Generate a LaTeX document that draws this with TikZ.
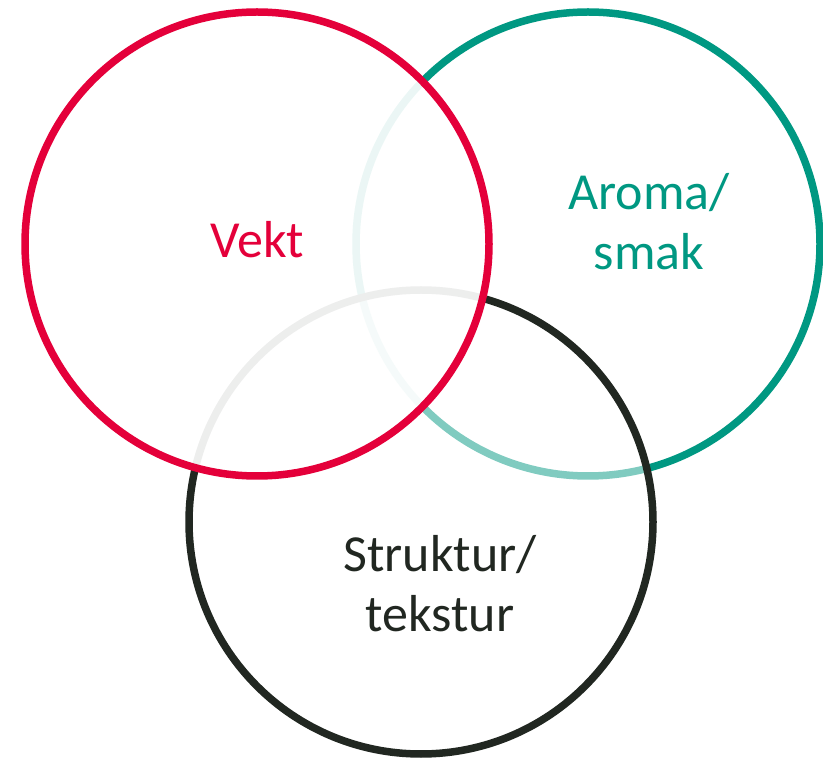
\documentclass[tikz,border=0pt]{standalone}
\usepackage{fontspec}
\setmainfont{Carlito}
\definecolor{vred}{RGB}{228,0,58}
\definecolor{vgreen}{RGB}{0,152,130}
\definecolor{vblack}{RGB}{33,39,33}
\begin{document}
\begin{tikzpicture}[x=1pt,y=-1pt,
  ring/.style={circle,draw,line width=7.5pt,minimum size=464pt,inner sep=0pt},
  lbl/.style={font=\fontsize{52}{60}\selectfont,align=center,inner sep=0pt}]
\useasboundingbox (0,0) rectangle (823,759);
\node[ring,draw=vgreen,fill=white,fill opacity=0] (aroma) at (588,244) {};
\node[ring,draw=vblack,fill=white,fill opacity=0.5,draw opacity=1] (struktur) at (421,522) {};
\node[ring,draw=vred,fill=white,fill opacity=0.92,draw opacity=1] (vekt) at (257,244) {};
\node[lbl,text=vred] (tvekt) at (257,240) {Vekt};
\node[lbl,text=vgreen] (taroma) at (649,222) {Aroma/\\smak};
\node[lbl,text=vblack] (tstruktur) at (440,584) {Struktur/\\tekstur};
\end{tikzpicture}
\end{document}
